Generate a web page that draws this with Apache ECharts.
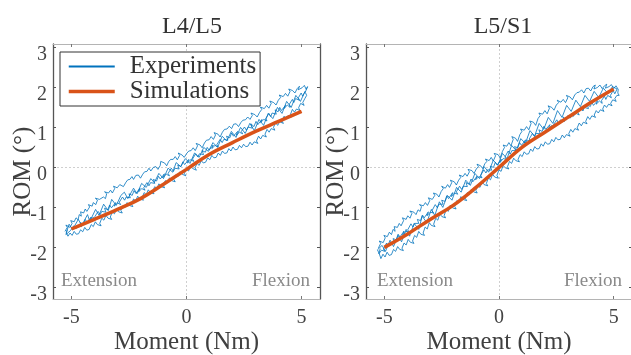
<!DOCTYPE html>
<html>
<head>
<meta charset="utf-8">
<script src="https://cdn.jsdelivr.net/npm/echarts@6/dist/echarts.min.js"></script>
<style>
  html, body { margin: 0; padding: 0; background: #fff; }
  #chart { width: 631px; height: 355px; }
</style>
</head>
<body>
<div id="chart"></div>
<script>
// Panel titles and tick values
const panelTitles = ['L4/L5', 'L5/S1'];
const xTicks = [-5, 0, 5];
const yTicks = [-3, -2, -1, 0, 1, 2, 3];

// Simulated moment-rotation curves
const simMoment = [-5, -4, -3, -2, -1, 0, 1, 2, 3, 4, 5];
const simL4L5 = [-1.54, -1.3, -1.05, -0.78, -0.42, -0.05, 0.33, 0.62, 0.9, 1.15, 1.4];
const simL5S1 = [-2.0, -1.67, -1.3, -0.95, -0.5, 0.0, 0.5, 0.88, 1.25, 1.62, 1.96];

// Measured hysteresis loops, L4/L5 [moment, rotation]
const expL4L5 = [
  [-5.28,-1.6],[-5.18,-1.5],[-5.24,-1.44],[-5.06,-1.5],[-4.97,-1.4],[-5.03,-1.33],[-4.88,-1.36],[-4.8,-1.26],[-4.71,-1.31],[-4.66,-1.18],
  [-4.57,-1.22],[-4.6,-1.11],[-4.47,-1.14],[-4.4,-1.04],[-4.33,-1.1],[-4.21,-0.99],[-4.26,-0.93],[-4.1,-0.97],[-4.05,-0.88],[-3.94,-0.93],
  [-3.87,-0.82],[-3.96,-0.77],[-3.78,-0.8],[-3.7,-0.85],[-3.61,-0.74],[-3.52,-0.78],[-3.47,-0.66],[-3.56,-0.61],[-3.39,-0.64],[-3.3,-0.57],
  [-3.22,-0.64],[-3.12,-0.53],[-3.17,-0.47],[-3.01,-0.51],[-2.9,-0.43],[-2.96,-0.38],[-2.82,-0.41],[-2.74,-0.48],[-2.63,-0.37],[-2.55,-0.31],
  [-2.61,-0.26],[-2.46,-0.3],[-2.37,-0.23],[-2.3,-0.3],[-2.2,-0.2],[-2.26,-0.15],[-2.09,-0.19],[-2.0,-0.27],[-1.9,-0.17],[-1.82,-0.11],
  [-1.88,-0.06],[-1.72,-0.1],[-1.63,-0.02],[-1.55,-0.09],[-1.44,0.0],[-1.5,0.05],[-1.33,0.02],[-1.24,-0.05],[-1.14,0.05],[-1.06,0.1],
  [-1.12,0.15],[-0.95,0.11],[-0.86,0.04],[-0.78,0.14],[-0.69,0.2],[-0.74,0.25],[-0.58,0.2],[-0.49,0.27],[-0.4,0.19],[-0.3,0.3],
  [-0.36,0.36],[-0.19,0.31],[-0.1,0.25],[0.01,0.35],[0.1,0.41],[0.04,0.46],[0.2,0.42],[0.29,0.49],[0.38,0.42],[0.48,0.54],
  [0.42,0.6],[0.59,0.56],[0.68,0.49],[0.78,0.61],[0.87,0.68],[0.81,0.73],[0.98,0.69],[1.07,0.77],[1.17,0.7],[1.26,0.81],
  [1.2,0.87],[1.37,0.83],[1.46,0.76],[1.56,0.88],[1.65,0.95],[1.59,1.0],[1.76,0.96],[1.86,1.03],[1.96,0.97],[2.05,1.08],
  [1.99,1.13],[2.16,1.09],[2.26,1.02],[2.36,1.12],[2.45,1.18],[2.39,1.23],[2.56,1.19],[2.66,1.26],[2.76,1.2],[2.86,1.3],
  [2.8,1.36],[2.97,1.32],[3.07,1.26],[3.17,1.37],[3.27,1.45],[3.21,1.51],[3.38,1.47],[3.48,1.55],[3.58,1.48],[3.68,1.6],
  [3.62,1.66],[3.79,1.62],[3.89,1.56],[3.99,1.68],[4.09,1.75],[4.03,1.81],[4.2,1.77],[4.3,1.85],[4.4,1.78],[4.5,1.9],
  [4.44,1.96],[4.61,1.92],[4.71,1.86],[4.81,1.97],[4.91,2.03],[4.85,1.94],[5.02,1.99],[5.12,2.05],[5.2,1.95],[5.26,2.02],
  [5.16,1.88],[5.22,1.8],
  [5.14,1.72],[5.05,1.62],[5.11,1.55],[4.96,1.6],[4.87,1.49],[4.93,1.42],[4.78,1.46],[4.69,1.38],[4.6,1.45],[4.52,1.33],
  [4.58,1.26],[4.42,1.3],[4.33,1.21],[4.24,1.28],[4.15,1.16],[4.21,1.1],[4.05,1.14],[3.96,1.05],[3.87,1.12],[3.78,1.0],
  [3.84,0.93],[3.68,0.97],[3.59,0.88],[3.5,0.95],[3.41,0.83],[3.47,0.76],[3.31,0.8],[3.22,0.71],[3.13,0.78],[3.04,0.66],
  [3.1,0.6],[2.94,0.64],[2.85,0.56],[2.76,0.63],[2.67,0.53],[2.73,0.48],[2.57,0.52],[2.48,0.58],[2.39,0.49],[2.3,0.55],
  [2.21,0.45],[2.27,0.4],[2.11,0.44],[2.02,0.51],[1.93,0.41],[1.84,0.47],[1.75,0.36],[1.81,0.31],[1.65,0.35],[1.56,0.41],
  [1.47,0.3],[1.38,0.36],[1.29,0.25],[1.35,0.2],[1.19,0.24],[1.1,0.3],[1.01,0.19],[0.92,0.24],[0.83,0.13],[0.89,0.08],
  [0.73,0.11],[0.64,0.17],[0.55,0.05],[0.46,0.1],[0.37,-0.01],[0.43,-0.07],[0.27,-0.03],[0.18,0.03],[0.09,-0.09],[0.0,-0.04],
  [-0.09,-0.15],[-0.03,-0.21],[-0.19,-0.17],[-0.28,-0.11],[-0.37,-0.23],[-0.46,-0.18],[-0.55,-0.3],[-0.49,-0.36],[-0.65,-0.33],[-0.74,-0.26],
  [-0.83,-0.38],[-0.92,-0.33],[-1.01,-0.45],[-0.95,-0.51],[-1.11,-0.48],[-1.2,-0.41],[-1.29,-0.53],[-1.38,-0.48],[-1.47,-0.6],[-1.41,-0.66],
  [-1.57,-0.63],[-1.66,-0.56],[-1.75,-0.68],[-1.84,-0.63],[-1.93,-0.76],[-1.87,-0.82],[-2.03,-0.79],[-2.12,-0.72],[-2.21,-0.84],[-2.3,-0.79],
  [-2.39,-0.92],[-2.33,-0.98],[-2.49,-0.95],[-2.58,-0.88],[-2.67,-1.0],[-2.76,-0.95],[-2.85,-1.08],[-2.79,-1.14],[-2.95,-1.11],[-3.04,-1.04],
  [-3.13,-1.16],[-3.22,-1.11],[-3.31,-1.24],[-3.25,-1.3],[-3.41,-1.27],[-3.5,-1.2],[-3.59,-1.32],[-3.68,-1.27],[-3.77,-1.4],[-3.71,-1.46],
  [-3.87,-1.43],[-3.96,-1.36],[-4.05,-1.48],[-4.14,-1.43],[-4.23,-1.55],[-4.17,-1.6],[-4.33,-1.57],[-4.42,-1.5],[-4.51,-1.61],[-4.6,-1.56],
  [-4.69,-1.66],[-4.63,-1.71],[-4.79,-1.67],[-4.88,-1.6],[-4.97,-1.7],[-5.06,-1.64],[-5.15,-1.72],[-5.22,-1.63],[-5.3,-1.58],
  [-5.1,-1.42],[-4.95,-1.55],[-4.7,-1.3],[-4.55,-1.45],[-4.3,-1.18],[-4.2,-1.35],[-3.95,-1.05],[-3.8,-1.2],[-3.6,-0.92],[-3.4,-1.08],
  [-3.25,-0.8],[-3.05,-0.95],[-2.85,-0.7],[-2.7,-0.62],[-2.55,-0.78],[-2.3,-0.52],[-2.15,-0.66],[-1.95,-0.4],[-1.75,-0.5],[-1.55,-0.28],
  [-1.4,-0.38],[-1.2,-0.15],[-1.0,-0.28],[-0.8,-0.02],[-0.6,-0.12],[-0.45,0.12],[-0.25,0.02],[-0.05,0.22],[0.15,0.1],[0.35,0.36],
  [0.55,0.25],[0.75,0.5],[0.95,0.4],[1.15,0.62],[1.35,0.5],[1.55,0.78],[1.75,0.66],[1.95,0.9],[2.15,0.75],[2.35,1.0],
  [2.55,0.85],[2.75,1.1],[2.95,0.92],[3.15,1.2],[3.35,1.05],[3.55,1.35],[3.75,1.22],[3.95,1.5],[4.15,1.35],[4.35,1.65],
  [4.55,1.5],[4.75,1.8],[4.95,1.65],[5.15,1.9],
  [5.05,1.78],[4.98,1.86],[4.86,1.74],[4.9,1.68],[4.74,1.72],[4.66,1.62],[4.6,1.7],[4.47,1.58],[4.5,1.5],[4.38,1.56],
  [4.24,1.47],[4.3,1.55],[4.12,1.42],[4.05,1.5],[3.98,1.39],[3.85,1.44],[3.9,1.33],[3.72,1.36],[3.66,1.27],[3.58,1.35],
  [3.44,1.22],[3.5,1.16],[3.36,1.2],[3.22,1.12],[3.28,1.2],[3.1,1.07],[3.02,1.15],[2.93,1.02],[2.8,1.09],[2.86,0.98],
  [2.68,1.01],[2.6,0.93],[2.52,1.01],[2.38,0.9],[2.44,0.84],[2.3,0.88],[2.16,0.8],[2.22,0.9],[2.04,0.78],[1.96,0.86],
  [1.88,0.74],[1.74,0.78],[1.8,0.68],[1.62,0.7],[1.55,0.62],[1.46,0.7],[1.32,0.57],[1.38,0.51],[1.24,0.55],[1.1,0.47],
  [1.16,0.56],[0.98,0.43],[0.9,0.5],[0.82,0.38],[0.68,0.42],[0.74,0.32],[0.56,0.34],[0.49,0.26],[0.4,0.34],[0.26,0.21],
  [0.32,0.15],[0.18,0.19],[0.04,0.11],[0.1,0.2],[-0.08,0.07],[-0.16,0.14],[-0.24,0.02],[-0.38,0.06],[-0.32,-0.04],[-0.5,-0.02],
  [-0.57,-0.1],[-0.66,-0.02],[-0.8,-0.15],[-0.74,-0.21],[-0.88,-0.17],[-1.02,-0.25],[-0.96,-0.16],[-1.14,-0.29],[-1.22,-0.22],[-1.3,-0.34],
  [-1.44,-0.3],[-1.38,-0.4],[-1.56,-0.38],[-1.63,-0.46],[-1.72,-0.38],[-1.86,-0.51],[-1.8,-0.57],[-1.94,-0.53],[-2.08,-0.61],[-2.02,-0.52],
  [-2.2,-0.65],[-2.28,-0.58],[-2.36,-0.7],[-2.5,-0.66],[-2.44,-0.76],[-2.62,-0.74],[-2.69,-0.82],[-2.78,-0.74],[-2.92,-0.87],[-2.86,-0.93],
  [-3.0,-0.89],[-3.14,-0.97],[-3.08,-0.88],[-3.26,-1.01],[-3.34,-0.94],[-3.42,-1.06],[-3.56,-1.02],[-3.5,-1.12],[-3.68,-1.1],[-3.75,-1.18],
  [-3.84,-1.1],[-3.98,-1.23],[-3.92,-1.29],[-4.06,-1.25],[-4.2,-1.33],[-4.14,-1.24],[-4.32,-1.37],[-4.4,-1.3],[-4.48,-1.42],[-4.62,-1.38],
  [-4.56,-1.48],[-4.74,-1.46],[-4.81,-1.54],[-4.9,-1.46],[-5.04,-1.58],[-4.98,-1.63],[-5.12,-1.6],[-5.24,-1.68],[-5.18,-1.56]
];

// Measured hysteresis loops, L5/S1 [moment, rotation]
const expL5S1 = [
  [-5.26,-2.02],[-5.16,-1.9],[-5.22,-1.84],[-5.05,-1.88],[-4.96,-1.76],[-5.02,-1.7],[-4.87,-1.73],[-4.78,-1.62],[-4.69,-1.68],[-4.62,-1.55],
  [-4.53,-1.6],[-4.57,-1.48],[-4.43,-1.5],[-4.35,-1.4],[-4.27,-1.46],[-4.16,-1.33],[-4.21,-1.26],[-4.05,-1.3],[-3.98,-1.21],[-3.88,-1.27],
  [-3.8,-1.15],[-3.89,-1.09],[-3.71,-1.12],[-3.62,-1.18],[-3.53,-1.06],[-3.44,-1.1],[-3.38,-0.98],[-3.47,-0.93],[-3.3,-0.96],[-3.21,-0.88],
  [-3.12,-0.95],[-3.02,-0.83],[-3.08,-0.76],[-2.91,-0.8],[-2.8,-0.7],[-2.86,-0.64],[-2.71,-0.67],[-2.62,-0.74],[-2.52,-0.6],[-2.43,-0.53],
  [-2.5,-0.47],[-2.34,-0.52],[-2.24,-0.43],[-2.16,-0.5],[-2.06,-0.38],[-2.12,-0.32],[-1.95,-0.36],[-1.86,-0.44],[-1.76,-0.32],[-1.67,-0.25],
  [-1.73,-0.19],[-1.57,-0.23],[-1.48,-0.15],[-1.39,-0.22],[-1.29,-0.11],[-1.35,-0.05],[-1.18,-0.08],[-1.09,-0.15],[-0.99,-0.04],[-0.9,0.02],
  [-0.96,0.08],[-0.8,0.04],[-0.71,-0.03],[-0.62,0.09],[-0.53,0.15],[-0.59,0.21],[-0.43,0.17],[-0.34,0.25],[-0.25,0.16],[-0.15,0.29],
  [-0.21,0.35],[-0.04,0.32],[0.05,0.24],[0.15,0.4],[0.24,0.5],[0.18,0.56],[0.34,0.53],[0.43,0.62],[0.52,0.54],[0.62,0.7],
  [0.56,0.77],[0.72,0.73],[0.81,0.65],[0.91,0.82],[1.0,0.9],[0.94,0.96],[1.1,0.93],[1.2,1.02],[1.3,0.94],[1.4,1.1],
  [1.34,1.16],[1.5,1.13],[1.6,1.05],[1.7,1.22],[1.8,1.3],[1.74,1.36],[1.9,1.33],[2.0,1.42],[2.1,1.34],[2.2,1.48],
  [2.14,1.54],[2.3,1.5],[2.4,1.43],[2.5,1.56],[2.6,1.62],[2.54,1.68],[2.7,1.63],[2.8,1.7],[2.9,1.62],[3.0,1.74],
  [2.94,1.8],[3.1,1.76],[3.2,1.69],[3.3,1.81],[3.4,1.87],[3.34,1.92],[3.5,1.88],[3.6,1.94],[3.7,1.86],[3.8,1.97],
  [3.74,2.02],[3.9,1.98],[4.0,1.91],[4.1,2.02],[4.2,2.06],[4.14,1.96],[4.3,2.0],[4.4,2.06],[4.5,1.97],[4.6,2.04],
  [4.7,2.08],[4.64,1.98],[4.8,2.02],[4.9,2.07],[5.0,1.97],[5.1,2.04],[5.2,1.95],[5.28,1.99],[5.18,1.86],[5.24,1.8],
  [5.14,1.8],[5.05,1.72],[5.11,1.65],[4.96,1.69],[4.87,1.6],[4.93,1.54],[4.78,1.58],[4.69,1.5],[4.6,1.56],[4.52,1.46],
  [4.58,1.4],[4.42,1.44],[4.33,1.36],[4.24,1.42],[4.15,1.31],[4.21,1.25],[4.05,1.29],[3.96,1.2],[3.87,1.27],[3.78,1.15],
  [3.84,1.09],[3.68,1.13],[3.59,1.04],[3.5,1.11],[3.41,0.99],[3.47,0.93],[3.31,0.97],[3.22,0.88],[3.13,0.95],[3.04,0.84],
  [3.1,0.78],[2.94,0.82],[2.85,0.74],[2.76,0.81],[2.67,0.7],[2.73,0.65],[2.57,0.69],[2.48,0.75],[2.39,0.64],[2.3,0.7],
  [2.21,0.59],[2.27,0.54],[2.11,0.58],[2.02,0.64],[1.93,0.53],[1.84,0.59],[1.75,0.47],[1.81,0.42],[1.65,0.46],[1.56,0.52],
  [1.47,0.4],[1.38,0.46],[1.29,0.34],[1.35,0.29],[1.19,0.33],[1.1,0.39],[1.01,0.27],[0.92,0.32],[0.83,0.2],[0.89,0.14],
  [0.73,0.17],[0.64,0.23],[0.55,0.1],[0.46,0.15],[0.37,0.02],[0.43,-0.04],[0.27,-0.01],[0.18,0.05],[0.09,-0.1],[0.0,-0.06],
  [-0.09,-0.2],[-0.03,-0.27],[-0.19,-0.24],[-0.28,-0.17],[-0.37,-0.31],[-0.46,-0.26],[-0.55,-0.4],[-0.49,-0.46],[-0.65,-0.43],[-0.74,-0.36],
  [-0.83,-0.5],[-0.92,-0.45],[-1.01,-0.58],[-0.95,-0.64],[-1.11,-0.61],[-1.2,-0.54],[-1.29,-0.68],[-1.38,-0.63],[-1.47,-0.77],[-1.41,-0.83],
  [-1.57,-0.8],[-1.66,-0.73],[-1.75,-0.88],[-1.84,-0.83],[-1.93,-0.98],[-1.87,-1.04],[-2.03,-1.01],[-2.12,-0.94],[-2.21,-1.1],[-2.3,-1.05],
  [-2.39,-1.2],[-2.33,-1.26],[-2.49,-1.23],[-2.58,-1.16],[-2.67,-1.32],[-2.76,-1.27],[-2.85,-1.42],[-2.79,-1.48],[-2.95,-1.45],[-3.04,-1.38],
  [-3.13,-1.54],[-3.22,-1.49],[-3.31,-1.64],[-3.25,-1.7],[-3.41,-1.67],[-3.5,-1.6],[-3.59,-1.75],[-3.68,-1.7],[-3.77,-1.84],[-3.71,-1.9],
  [-3.87,-1.87],[-3.96,-1.8],[-4.05,-1.94],[-4.14,-1.89],[-4.23,-2.02],[-4.17,-2.08],[-4.33,-2.05],[-4.42,-1.98],[-4.51,-2.1],[-4.6,-2.05],
  [-4.69,-2.18],[-4.63,-2.23],[-4.79,-2.2],[-4.88,-2.12],[-4.97,-2.24],[-5.06,-2.17],[-5.15,-2.28],[-5.22,-2.16],[-5.3,-2.06],
  [-5.1,-1.95],[-4.95,-2.1],[-4.75,-1.82],[-4.6,-1.98],[-4.4,-1.7],[-4.25,-1.86],[-4.05,-1.55],[-3.9,-1.72],[-3.7,-1.4],[-3.5,-1.55],
  [-3.35,-1.22],[-3.15,-1.38],[-2.95,-1.05],[-2.8,-1.2],[-2.6,-0.86],[-2.45,-1.0],[-2.25,-0.7],[-2.05,-0.82],[-1.85,-0.5],[-1.65,-0.62],
  [-1.45,-0.32],[-1.25,-0.45],[-1.05,-0.15],[-0.85,-0.28],[-0.65,0.02],[-0.45,-0.12],[-0.25,0.18],[-0.05,0.05],[0.15,0.35],[0.35,0.22],
  [0.55,0.55],[0.75,0.42],[0.95,0.72],[1.15,0.6],[1.35,0.92],[1.55,0.78],[1.75,1.1],[1.95,0.95],[2.15,1.25],[2.35,1.1],
  [2.55,1.42],[2.75,1.25],[2.95,1.55],[3.15,1.4],[3.35,1.68],[3.55,1.52],[3.75,1.8],[3.95,1.65],[4.15,1.9],[4.35,1.75],
  [4.55,1.98],[4.75,1.85],[4.95,2.02],[5.15,1.96],
  [5.05,1.84],[4.98,1.92],[4.86,1.8],[4.9,1.74],[4.74,1.8],[4.66,1.7],[4.6,1.78],[4.47,1.67],[4.5,1.6],[4.38,1.66],
  [4.24,1.58],[4.3,1.67],[4.12,1.55],[4.05,1.63],[3.98,1.52],[3.85,1.58],[3.9,1.47],[3.72,1.5],[3.66,1.41],[3.58,1.49],
  [3.44,1.37],[3.5,1.31],[3.36,1.35],[3.22,1.27],[3.28,1.36],[3.1,1.23],[3.02,1.31],[2.93,1.19],[2.8,1.26],[2.86,1.15],
  [2.68,1.19],[2.6,1.1],[2.52,1.19],[2.38,1.07],[2.44,1.01],[2.3,1.05],[2.16,0.97],[2.22,1.07],[2.04,0.95],[1.96,1.03],
  [1.88,0.9],[1.74,0.94],[1.8,0.84],[1.62,0.85],[1.55,0.77],[1.46,0.85],[1.32,0.71],[1.38,0.65],[1.24,0.68],[1.1,0.6],
  [1.16,0.69],[0.98,0.55],[0.9,0.62],[0.82,0.49],[0.68,0.52],[0.74,0.42],[0.56,0.42],[0.49,0.33],[0.4,0.41],[0.26,0.26],
  [0.32,0.2],[0.18,0.22],[0.04,0.12],[0.1,0.21],[-0.08,0.06],[-0.16,0.13],[-0.24,0.0],[-0.38,0.03],[-0.32,-0.07],[-0.5,-0.06],
  [-0.57,-0.14],[-0.66,-0.06],[-0.8,-0.2],[-0.74,-0.26],[-0.88,-0.23],[-1.02,-0.31],[-0.96,-0.22],[-1.14,-0.36],[-1.22,-0.29],[-1.3,-0.42],
  [-1.44,-0.38],[-1.38,-0.48],[-1.56,-0.47],[-1.63,-0.55],[-1.72,-0.47],[-1.86,-0.61],[-1.8,-0.67],[-1.94,-0.64],[-2.08,-0.73],[-2.02,-0.63],
  [-2.2,-0.78],[-2.28,-0.71],[-2.36,-0.85],[-2.5,-0.82],[-2.44,-0.92],[-2.62,-0.92],[-2.69,-1.01],[-2.78,-0.93],[-2.92,-1.08],[-2.86,-1.14],
  [-3.0,-1.12],[-3.14,-1.21],[-3.08,-1.11],[-3.26,-1.26],[-3.34,-1.19],[-3.42,-1.33],[-3.56,-1.3],[-3.5,-1.4],[-3.68,-1.4],[-3.75,-1.49],
  [-3.84,-1.41],[-3.98,-1.56],[-3.92,-1.62],[-4.06,-1.6],[-4.2,-1.69],[-4.14,-1.59],[-4.32,-1.74],[-4.4,-1.67],[-4.48,-1.81],[-4.62,-1.78],
  [-4.56,-1.88],[-4.74,-1.88],[-4.81,-1.97],[-4.9,-1.89],[-5.04,-2.04],[-4.98,-2.1],[-5.12,-2.07],[-5.24,-2.16],[-5.18,-2.03]
];

const SERIF = "'Liberation Serif', 'DejaVu Serif', serif";
const BLUE = '#0072BD';
const ORANGE = '#D95319';
const DARK = '#555555';
const LIGHT = '#b4b4b4';
const X_RANGE = [-5.8, 5.8];
const Y_RANGE = [-3.29, 3.085];
// y tick labels sit slightly below their ticks; this is that drop in axis units
const LABEL_DROP = 0.19;

const grids = [
  { left: 53, top: 44, width: 267, height: 255, containLabel: false, outerBoundsMode: 'none' },
  { left: 366, top: 44, width: 266, height: 255, containLabel: false, outerBoundsMode: 'none' }
];

function xAxes(gi) {
  const common = { type: 'value', gridIndex: gi, min: X_RANGE[0], max: X_RANGE[1], splitLine: { show: false } };
  return [
    Object.assign({}, common, {
      position: 'bottom',
      name: 'Moment (Nm)', nameLocation: 'middle', nameGap: 31, nameMoveOverlap: false,
      nameTextStyle: { fontFamily: SERIF, fontSize: 25, color: '#404040' },
      axisLine: { show: true, onZero: false, lineStyle: { color: LIGHT, width: 1 } },
      axisTick: { show: true, inside: true, length: 3, customValues: xTicks, lineStyle: { color: '#777' } },
      axisLabel: { show: true, margin: 9, customValues: xTicks, fontFamily: SERIF, fontSize: 20, color: '#444' }
    }),
    Object.assign({}, common, {
      position: 'top',
      axisLine: { show: true, onZero: false, lineStyle: { color: LIGHT, width: 1 } },
      axisTick: { show: true, inside: true, length: 3, customValues: xTicks, lineStyle: { color: '#777' } },
      axisLabel: { show: false }
    })
  ];
}

function yAxes(gi) {
  const common = { type: 'value', gridIndex: gi, min: Y_RANGE[0], max: Y_RANGE[1], splitLine: { show: false } };
  return [
    Object.assign({}, common, {
      position: 'left',
      name: 'ROM (°)', nameLocation: 'middle', nameGap: 17, nameRotate: 90, nameMoveOverlap: false,
      nameTextStyle: { fontFamily: SERIF, fontSize: 25, color: '#404040' },
      axisLine: { show: true, onZero: false, lineStyle: { color: DARK, width: 1.3 } },
      axisTick: { show: true, inside: true, length: 3, customValues: yTicks, lineStyle: { color: DARK } },
      axisLabel: { show: false }
    }),
    Object.assign({}, common, {
      position: 'right',
      axisLine: { show: true, onZero: false, lineStyle: { color: DARK, width: 1.3 } },
      axisTick: { show: true, inside: true, length: 3, customValues: yTicks, lineStyle: { color: DARK } },
      axisLabel: { show: false }
    }),
    // label-only axis, shifted so each number sits just under its tick
    {
      type: 'value', gridIndex: gi, position: 'left', offset: 0,
      min: Y_RANGE[0] + LABEL_DROP, max: Y_RANGE[1] + LABEL_DROP,
      splitLine: { show: false }, axisLine: { show: false }, axisTick: { show: false },
      axisLabel: { show: true, margin: 6, customValues: yTicks, fontFamily: SERIF, fontSize: 20, color: '#444' }
    }
  ];
}

const zeroLines = {
  silent: true, symbol: 'none', z: 0,
  label: { show: false },
  lineStyle: { type: [2, 2], color: '#cfcfcf', width: 1 },
  data: [{ xAxis: 0 }, { yAxis: 0 }]
};

function panelSeries(gi, expData, simData) {
  const xi = gi * 2;
  const yi = gi * 3;
  return [
    {
      name: 'Experiments', type: 'line', xAxisIndex: xi, yAxisIndex: yi,
      data: expData, symbol: 'none', z: 2,
      lineStyle: { color: BLUE, width: 0.8 }, itemStyle: { color: BLUE },
      markLine: zeroLines
    },
    {
      name: 'Simulations', type: 'line', xAxisIndex: xi, yAxisIndex: yi,
      data: simMoment.map((m, i) => [m, simData[i]]), symbol: 'none', smooth: 0.4, z: 3,
      lineStyle: { color: ORANGE, width: 3.5 }, itemStyle: { color: ORANGE }
    }
  ];
}

const noteStyle = { fontFamily: SERIF, fontSize: 19, fill: '#8a8a8a' };
const hiddenMarker = { color: 'rgba(0,0,0,0)', borderColor: 'rgba(0,0,0,0)', borderWidth: 0 };

const option = {
  animation: false,
  backgroundColor: '#ffffff',
  title: [
    { text: panelTitles[0], left: 187, top: 10, textAlign: 'center',
      textStyle: { fontFamily: SERIF, fontSize: 24, fontWeight: 'normal', color: '#333' } },
    { text: panelTitles[1], left: 498, top: 10, textAlign: 'center',
      textStyle: { fontFamily: SERIF, fontSize: 24, fontWeight: 'normal', color: '#333' } }
  ],
  grid: grids,
  xAxis: xAxes(0).concat(xAxes(1)),
  yAxis: yAxes(0).concat(yAxes(1)),
  legend: {
    left: 60, top: 52, orient: 'vertical',
    backgroundColor: '#fff', borderColor: '#333', borderWidth: 1,
    padding: [2, 4, 2, 7], itemGap: 0, itemWidth: 46, itemHeight: 14,
    textStyle: { fontFamily: SERIF, fontSize: 25, color: '#333', lineHeight: 24, padding: [0, 0, 0, 10] },
    data: [
      { name: 'Experiments', lineStyle: { color: BLUE, width: 2 }, itemStyle: hiddenMarker },
      { name: 'Simulations', lineStyle: { color: ORANGE, width: 3.5 }, itemStyle: hiddenMarker }
    ]
  },
  graphic: [
    { type: 'text', left: 61, top: 272, style: Object.assign({ text: 'Extension' }, noteStyle) },
    { type: 'text', right: 631 - 310, top: 272, style: Object.assign({ text: 'Flexion' }, noteStyle) },
    { type: 'text', left: 377, top: 272, style: Object.assign({ text: 'Extension' }, noteStyle) },
    { type: 'text', right: 631 - 622, top: 272, style: Object.assign({ text: 'Flexion' }, noteStyle) }
  ],
  series: panelSeries(0, expL4L5, simL4L5).concat(panelSeries(1, expL5S1, simL5S1))
};

const chart = echarts.init(document.getElementById('chart'), null, { renderer: 'canvas' });
chart.setOption(option);
</script>
</body>
</html>
